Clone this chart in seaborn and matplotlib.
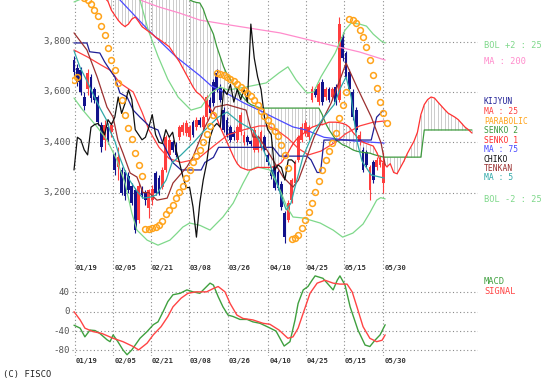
import matplotlib
matplotlib.use("Agg")
import matplotlib.pyplot as plt
import seaborn as sns

sns.set_style("white")
plt.rcParams['font.family'] = ['DejaVu Sans Mono', 'DejaVu Sans']

# ---------------- data (trading-day index 0 = 01/19) ----------------
opens = [3727, 3695, 3687, 3580, 3610, 3660, 3610, 3580, 3470, 3410,
         3460, 3440, 3355, 3300, 3290, 3280, 3265, 3225, 3210, 3090,
         3215, 3200, 3140, 3170, 3277, 3260, 3222, 3290, 3350, 3400,
         3390, 3420, 3440, 3435, 3420, 3480, 3460, 3490, 3460, 3500,
         3570, 3640, 3675, 3620, 3530, 3490, 3460, 3440, 3410, 3440,
         3400, 3420, 3405, 3370, 3370, 3380, 3420, 3350, 3290, 3300,
         3280, 3236, 3118, 3091, 3171, 3240, 3330, 3410, 3435, 3420,
         3570, 3610, 3560, 3640, 3580, 3610, 3580, 3620, 3570, 3820,
         3755, 3680, 3600, 3530, 3400, 3370, 3360, 3210, 3320, 3300,
         3310, 3240]
closes = [3680, 3640, 3600, 3545, 3675, 3575, 3570, 3480, 3380, 3470,
          3410, 3470, 3290, 3340, 3200, 3185, 3210, 3160, 3050, 3225,
          3190, 3170, 3210, 3215, 3200, 3200, 3290, 3420, 3410, 3370,
          3350, 3460, 3470, 3475, 3460, 3430, 3490, 3470, 3500, 3580,
          3515, 3555, 3608, 3570, 3450, 3430, 3410, 3420, 3460, 3510,
          3430, 3400, 3395, 3450, 3420, 3440, 3370, 3320, 3265, 3220,
          3220, 3143, 3023, 3160, 3250, 3317, 3420, 3460, 3475, 3460,
          3610, 3590, 3630, 3560, 3610, 3570, 3610, 3560, 3870, 3735,
          3660, 3610, 3500, 3450, 3430, 3290, 3310, 3300, 3250, 3330,
          3330, 3317]
highs = [3745, 3710, 3700, 3600, 3690, 3670, 3620, 3590, 3480, 3490,
         3475, 3480, 3360, 3380, 3300, 3290, 3280, 3240, 3220, 3240,
         3225, 3210, 3215, 3230, 3285, 3270, 3300, 3430, 3420, 3410,
         3400, 3470, 3480, 3490, 3470, 3490, 3500, 3500, 3510, 3590,
         3580, 3650, 3690, 3630, 3540, 3500, 3470, 3450, 3470, 3520,
         3445, 3430, 3410, 3460, 3430, 3450, 3430, 3360, 3300, 3310,
         3290, 3245, 3125, 3170, 3260, 3330, 3430, 3475, 3490, 3470,
         3625, 3620, 3640, 3650, 3620, 3620, 3620, 3630, 3900, 3840,
         3765, 3690, 3610, 3540, 3445, 3380, 3370, 3310, 3330, 3340,
         3345, 3360]
lows = [3660, 3625, 3590, 3530, 3590, 3560, 3555, 3470, 3360, 3370,
        3395, 3420, 3270, 3250, 3190, 3170, 3200, 3150, 3040, 3080,
        3180, 3150, 3100, 3150, 3190, 3190, 3215, 3280, 3340, 3360,
        3340, 3410, 3430, 3425, 3410, 3420, 3450, 3460, 3450, 3490,
        3505, 3545, 3600, 3560, 3440, 3420, 3400, 3410, 3400, 3430,
        3390, 3390, 3385, 3360, 3360, 3370, 3360, 3310, 3255, 3210,
        3210, 3130, 3000, 3085, 3160, 3230, 3320, 3400, 3425, 3410,
        3560, 3580, 3550, 3550, 3570, 3560, 3570, 3550, 3560, 3725,
        3650, 3600, 3490, 3440, 3390, 3280, 3300, 3170, 3240, 3290,
        3300, 3200]

ma200_days = [0, 8, 17, 19.4, 25, 31, 37, 46, 60.6, 75.3, 84, 91.5]
ma200_vals = [4060, 4020, 3980, 3966, 3938, 3914, 3886, 3866, 3835, 3787, 3759, 3727]

ma75_days = [0, 7, 13.5, 21.8, 30, 37, 40.3, 44.7, 50, 54.4, 60, 64.4, 68.2, 73.5, 82.4, 91.2]
ma75_vals = [4140, 4060, 3966, 3847, 3740, 3665, 3625, 3596, 3556, 3528, 3490, 3461, 3449, 3420, 3405, 3397]

ma25_days = [0, 4, 8, 10.6, 13.5, 17.4, 20, 22, 25, 28, 31.5, 36.5, 41.5, 45.3, 50, 54.5, 57,
             60, 63, 66, 69, 72.6, 76.8, 80, 84, 88, 91.5]
ma25_vals = [3767, 3739, 3707, 3687, 3636, 3600, 3520, 3450, 3380, 3335, 3320, 3335, 3390, 3430,
             3450, 3465, 3465, 3445, 3415, 3375, 3350, 3365, 3400, 3435, 3465, 3480, 3485]

ma5_days = [0, 1.8, 3.8, 5.6, 7.6, 9.7, 10.6, 12, 13.5, 15, 16.5, 18.5, 20.3, 22.4, 24.1, 27.1,
            28.8, 31.5, 35, 38.2, 42.4, 45, 48.5, 52.6, 54.4, 57.4, 59.4, 60.9, 62.4, 63.8, 65.3,
            67.4, 70.6, 73.5, 76.5, 78.5, 80, 81.5, 83.2, 84.7, 87.4, 91.2]
ma5_vals = [3764, 3697, 3644, 3592, 3537, 3485, 3445, 3405, 3338, 3286, 3246, 3206, 3178, 3182,
            3190, 3250, 3318, 3350, 3397, 3445, 3500, 3520, 3481, 3449, 3409, 3318, 3250, 3186,
            3131, 3158, 3238, 3345, 3445, 3500, 3550, 3620, 3660, 3580, 3405, 3325, 3270, 3258]

bolu_days = [0, 3, 8, 14, 18, 19.4, 21.8, 24.7, 27.6, 30.6, 34.4, 37.4, 40.3, 42.9, 45.3, 50.6,
             56.5, 60.3, 62.9, 65.3, 68.5, 70.5, 72.6, 76.8, 79.7, 81.5, 84, 86, 88, 90.3, 91.5]
bolu_vals = [3958, 3975, 4010, 4010, 3985, 3966, 3847, 3742, 3650, 3580, 3528, 3540, 3596, 3620,
             3608, 3620, 3636, 3676, 3700, 3648, 3596, 3600, 3660, 3755, 3846, 3874, 3870, 3862,
             3830, 3803, 3795]

boll_days = [0, 2.6, 6.8, 9.7, 12.6, 15, 17, 18.5, 21.5, 24.7, 28.2, 30.3, 32, 34, 37, 40, 43.8,
             46.8, 49.7, 51.8, 53.8, 57.6, 60.6, 62.6, 64.4, 67.4, 72.4, 76.2, 79, 82, 85, 87, 89,
             90.2, 91.5]
boll_vals = [3576, 3528, 3461, 3409, 3330, 3238, 3119, 3051, 3011, 2991, 3011, 3039, 3063, 3079,
             3070, 3051, 3103, 3158, 3237, 3290, 3302, 3290, 3210, 3143, 3103, 3099, 3079, 3051,
             3023, 3039, 3075, 3120, 3170, 3180, 3175]

kijun_days = [0, 3.8, 4.6, 7.6, 9, 10.6, 12, 13.5, 15.6, 17.4, 19.4, 22.4, 24.7, 26, 27.6, 29,
              31.5, 37.4, 38.5, 41, 42.5, 58.5, 60.5, 68.5, 69.7, 71.5, 72.5, 73.5, 87.4, 89, 91]
kijun_vals = [3795, 3795, 3760, 3755, 3720, 3687, 3660, 3596, 3580, 3528, 3500, 3461, 3449, 3400,
              3357, 3320, 3290, 3290, 3320, 3340, 3380, 3380, 3345, 3345, 3330, 3280, 3280, 3409,
              3409, 3500, 3528]

tenkan_days = [0, 3.8, 6.8, 9.7, 11.5, 12.9, 14.4, 16.5, 18.5, 20.3, 22, 24.4, 27.4, 29.1, 33.2,
               35, 38.5, 41.5, 45, 50.6, 52.6, 54.4, 58.5, 61.5, 64.4, 66, 68.2, 70.6, 75.6, 78.5,
               80, 83.2, 87.4, 90.3, 91.5]
tenkan_vals = [3835, 3767, 3660, 3540, 3500, 3409, 3357, 3278, 3262, 3200, 3200, 3170, 3178, 3238,
               3302, 3342, 3461, 3540, 3550, 3528, 3421, 3421, 3330, 3262, 3222, 3250, 3330, 3421,
               3556, 3660, 3715, 3620, 3501, 3397, 3310]

# senko spans, one value per day 0..117 (26 days ahead of the last candle)
senko1 = [4010, 4010, 4005, 4000, 4000, 3995, 3990, 3985, 3980, 3975,
          3960, 3925, 3905, 3885, 3870, 3860, 3870, 3890, 3898, 3880,
          3860, 3850, 3840, 3830, 3818, 3810, 3800, 3790, 3780, 3760,
          3740, 3720, 3695, 3670, 3645, 3620, 3600, 3590, 3575, 3555,
          3535, 3515, 3495, 3460, 3430, 3400, 3370, 3340, 3315, 3300,
          3295, 3290, 3290, 3295, 3300, 3300, 3300, 3300, 3300, 3305,
          3310, 3320, 3340, 3360, 3385, 3405, 3420, 3430, 3440, 3450,
          3460, 3465, 3470, 3470, 3475, 3480, 3480, 3480, 3478, 3475,
          3470, 3460, 3440, 3425, 3410, 3400, 3395, 3390, 3385, 3360,
          3330, 3320, 3302, 3315, 3280, 3275, 3300, 3325, 3355, 3380,
          3405, 3440, 3510, 3550, 3570, 3580, 3576, 3560, 3545, 3530,
          3516, 3508, 3500, 3490, 3475, 3460, 3450, 3437]
senko2 = [4060, 4060, 4060, 4060, 4060, 4060, 4060, 4060, 4060, 4060,
          4060, 4060, 4060, 4060, 4060, 4060, 4060, 4060, 4060, 4060,
          4060, 4060, 4060, 4060, 4060, 4060, 4060, 4060, 4060, 4060,
          4050, 4040, 4020, 3990, 3966, 3960, 3956, 3954, 3930, 3890,
          3860, 3830, 3780, 3740, 3700, 3670, 3650, 3630, 3610, 3590,
          3575, 3560, 3550, 3545, 3540, 3536, 3536, 3536, 3536, 3536,
          3536, 3536, 3536, 3536, 3536, 3536, 3536, 3536, 3536, 3536,
          3536, 3536, 3536, 3510, 3475, 3450, 3430, 3410, 3400, 3390,
          3385, 3378, 3370, 3365, 3362, 3360, 3358, 3357, 3352, 3348,
          3345, 3341, 3341, 3341, 3341, 3341, 3341, 3341, 3341, 3341,
          3341, 3341, 3341, 3449, 3449, 3449, 3449, 3449, 3449, 3449,
          3449, 3449, 3449, 3449, 3449, 3449, 3449, 3449]

sar = [3648, 3660, 3990, 3975, 3966, 3950, 3926, 3902, 3862, 3827,
       3775, 3727, 3687, 3636, 3568, 3509, 3457, 3413, 3357, 3310,
       3266, 3055, 3056, 3058, 3065, 3073, 3089, 3115, 3131, 3151,
       3178, 3202, 3226, 3258, 3290, 3322, 3346, 3369, 3401, 3433,
       3465, 3509, 3675, 3671, 3668, 3660, 3652, 3644, 3632, 3620,
       3608, 3596, 3584, 3568, 3548, 3524, 3505, 3489, 3465, 3445,
       3425, 3389, 3349, 3298, 3016, 3020, 3031, 3059, 3091, 3123,
       3158, 3202, 3246, 3290, 3330, 3365, 3397, 3437, 3496, 3548,
       3600, 3890, 3886, 3874, 3846, 3819, 3779, 3727, 3668, 3616,
       3560, 3516, 3477]

macd_days = [0, 1.8, 3.2, 4.7, 6.2, 7.6, 9.7, 10.6, 11.5, 12.9, 14.4, 15.6, 17, 18.5, 19.4,
             21.5, 23.3, 24.7, 26.2, 27.6, 29.1, 31.2, 33.2, 35, 37, 38, 40, 41, 42.4, 43.8,
             45.3, 46.8, 48.8, 50.9, 52.6, 54.7, 57.4, 59.4, 61.8, 63.5, 65, 65.9, 67.4, 68.8,
             70, 70.9, 73.2, 76.2, 77.4, 78.2, 79.7, 81.2, 83.5, 85.6, 87, 88.5, 90, 91.5]
macd_vals = [-28, -34, -52, -38, -39, -45, -58, -62, -48, -62, -79, -89, -79, -64, -55,
             -41, -27, -21, 0, 21, 35, 38, 45, 41, 38, 45, 59, 55, 31, 10,
             -7, -10, -16, -16, -21, -24, -33, -40, -71, -62, -17, 17, 45, 52,
             65, 74, 69, 45, 65, 74, 55, 10, -38, -69, -72, -59, -48, -27]
signal_days = [0, 1.8, 3.2, 5.5, 8.2, 11.5, 14.4, 17.4, 19, 21.5, 23.3, 25.6, 27.6, 29.1, 31.5,
               33.5, 35.9, 39, 41, 42.4, 44.4, 45.9, 47.9, 49.7, 52.6, 55.6, 57.6, 60.3, 62.9,
               64.4, 65.9, 67.4, 69.4, 71.5, 73.8, 76.2, 78.2, 80.3, 81.8, 83.2, 85, 87, 89,
               90.6, 91.5]
signal_vals = [0, -17, -34, -41, -45, -55, -62, -72, -79, -65, -48, -31, -10, 10, 28,
               38, 41, 41, 48, 52, 41, 17, -7, -14, -17, -24, -26, -38, -55,
               -52, -34, -3, 38, 59, 65, 59, 57, 57, 41, 10, -31, -55, -62,
               -59, -48]

date_labels = ["01/19", "02/05", "02/21", "03/08", "03/26", "04/10", "04/25", "05/15", "05/30"]
date_pos = [0.3, 11.5, 22.6, 33.8, 45.3, 57.1, 68.2, 79.4, 90.9]
price_ticks = [3200, 3400, 3600, 3800]
macd_ticks = [40, 0, -40, -80]

# ---------------- layout ----------------
W, H = 547, 388
fig = plt.figure(figsize=(W / 100, H / 100), dpi=100)
fig.patch.set_facecolor("white")


def rect(x0, y0, x1, y1):
    return [x0 / W, 1 - y1 / H, (x1 - x0) / W, (y1 - y0) / H]


ax = fig.add_axes(rect(72, 0, 478, 272))
ax2 = fig.add_axes(rect(72, 274, 478, 356))
XLIM = (-0.59, 118.8)
for a in (ax, ax2):
    a.set_xlim(*XLIM)
    for s in a.spines.values():
        s.set_visible(False)
    a.set_xticks([])
    a.set_yticks([])
    a.set_facecolor("white")
ax.set_ylim(2884.3, 3965.8)
ax2.set_ylim(-91.6, 77.9)

dot = (0, (1, 2.2))
gcol = "#8a8a8a"
for v in price_ticks:
    ax.axhline(v, color=gcol, lw=0.8, ls=dot, zorder=0)
for v in macd_ticks:
    ax2.axhline(v, color=gcol, lw=0.8, ls=dot, zorder=0)
for p in date_pos:
    ax.axvline(p, color=gcol, lw=0.8, ls=dot, zorder=0)
    ax2.axvline(p, color=gcol, lw=0.8, ls=dot, zorder=0)

# ---------------- ichimoku cloud hatch ----------------
cloud_days = list(range(len(senko1)))
ax.vlines(cloud_days, senko1, senko2, color="#c4c4c4", lw=0.6, zorder=1)

# ---------------- candles ----------------
days = list(range(len(closes)))
up_col, dn_col = "#ff3d3d", "#12128c"
cols = [up_col if c >= o else dn_col for o, c in zip(opens, closes)]
ax.vlines(days, lows, highs, colors=cols, lw=0.8, zorder=2)
ax.bar(days, [abs(c - o) for o, c in zip(opens, closes)],
       bottom=[min(o, c) for o, c in zip(opens, closes)],
       width=0.8, color=cols, linewidth=0, zorder=2)

# ---------------- indicator lines ----------------
def line(a, x, y, color, lw=0.9, z=3):
    sns.lineplot(x=x, y=y, ax=a, color=color, linewidth=lw, sort=False,
                 estimator=None, legend=False, zorder=z)

line(ax, ma200_days, ma200_vals, "#ff8ccc")
line(ax, ma75_days, ma75_vals, "#4a4aff")
line(ax, bolu_days, bolu_vals, "#7ed88a")
line(ax, boll_days, boll_vals, "#7ed88a")
line(ax, ma25_days, ma25_vals, "#ff4040")
line(ax, cloud_days, senko2, "#3d9a3d")
line(ax, cloud_days, senko1, "#ff3030")
line(ax, kijun_days, kijun_vals, "#1f1f96")
line(ax, tenkan_days, tenkan_vals, "#9b3030")
line(ax, ma5_days, ma5_vals, "#2fa8a8")
chiko_days = [d - 26 for d in days[26:]]
line(ax, chiko_days, closes[26:], "#101010")

sns.lineplot(x=list(range(len(sar))), y=sar, ax=ax, linestyle="none", marker="o",
             markersize=4.2, markerfacecolor="none", markeredgecolor="#ffa31a",
             markeredgewidth=1.1, estimator=None, sort=False, legend=False, zorder=4)

line(ax2, macd_days, macd_vals, "#3fa03f", lw=1.0)
line(ax2, signal_days, signal_vals, "#ff4444", lw=1.0)

for a in (ax, ax2):
    a.set_xlabel("")
    a.set_ylabel("")

# ---------------- text ----------------
tcol = "#555555"
for v in price_ticks:
    ax.text(-0.9, v, f"{v:,}", ha="right", va="center", fontsize=6.6, color=tcol)
for v in macd_ticks:
    ax2.text(-1.2, v, f"{v}", ha="right", va="center", fontsize=6.6, color=tcol)
for p, lab in zip(date_pos, date_labels):
    ax.text(p + 0.3, 2902, lab, ha="left", va="center", fontsize=5.2,
            fontweight="bold", color="#333333")
    ax2.text(p + 0.3, -101, lab, ha="left", va="center", fontsize=5.2,
             fontweight="bold", color="#333333", clip_on=False)


def label(y, text, color, size=6.2):
    fig.text(484 / W, 1 - y / H, text, ha="left", va="center", fontsize=size, color=color)

label(46, "BOL +2 : 25", "#7ed88a")
label(61, "MA : 200", "#ff8ccc")
# the legend block beside the price scale (spread so entries stay readable)
lab_size = 5.8
label(102, "KIJYUN", "#1f1f96", lab_size)
label(111.5, "MA : 25", "#ff4040", lab_size)
label(121, "PARABOLIC", "#ffa31a", lab_size)
label(130.5, "SENKO 2", "#3d9a3d", lab_size)
label(140, "SENKO 1", "#ff3030", lab_size)
label(149.5, "MA : 75", "#4a4aff", lab_size)
label(159, "CHIKO", "#101010", lab_size)
label(168.5, "TENKAN", "#9b3030", lab_size)
label(178, "MA : 5", "#2fa8a8", lab_size)
label(200, "BOL -2 : 25", "#7ed88a")
label(282, "MACD", "#3fa03f")
label(292, "SIGNAL", "#ff4444")

fig.text(3 / W, 1 - 374 / H, "(C) FISCO", ha="left", va="center", fontsize=6.4, color="#222222")

fig.savefig("out.png", dpi=100, facecolor="white")
